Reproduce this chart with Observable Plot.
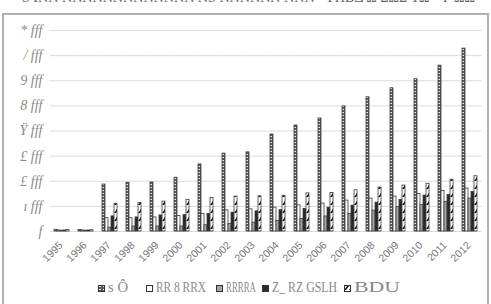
<!DOCTYPE html>
<html>
<head>
<meta charset="utf-8">
<script src="https://cdn.jsdelivr.net/npm/d3@7"></script>
<script src="https://cdn.jsdelivr.net/npm/@observablehq/plot@0.6"></script>
<style>
  html, body { margin: 0; padding: 0; background: #fff; overflow: hidden; }
  #wrap { position: relative; width: 491px; height: 304px; }
  #frame { position: absolute; left: 2px; top: 13px; width: 483px; height: 320px; border: 2px solid #b0b0b0; }
  #title { position: absolute; left: 22px; top: -11px; font: 15px "Liberation Serif", serif; color: #666; white-space: nowrap; transform-origin: 0 0; }
  #chart { position: absolute; left: 0; top: 0; }
  #chart svg [aria-label^="y-axis"] text { font-family: "Liberation Serif", serif; font-style: italic; font-size: 14px; fill: #8a8a8a; }
  #chart svg [aria-label^="fx-axis"] text { font-family: "Liberation Sans", sans-serif; font-size: 10.5px; fill: #777; }
  #legend { position: absolute; left: 0; top: 0; width: 491px; height: 304px; font: 14px "Liberation Serif", serif; color: #888; white-space: nowrap; }
  #legend .item { position: absolute; top: 280px; display: flex; align-items: center; }
  #legend svg { margin-right: 3px; }
  #legend span { display: inline-block; transform-origin: 0 50%; }
</style>
</head>
<body>
<svg width="0" height="0" style="position:absolute">
  <defs>
    <pattern id="pChk" width="4" height="3" patternUnits="userSpaceOnUse">
      <rect width="4" height="3" fill="#5a5a5a"></rect>
      <rect x="1" y="1" width="2" height="1" fill="#e8e8e8"></rect>
    </pattern>
    <pattern id="pHatch" width="5" height="8" patternUnits="userSpaceOnUse">
      <rect width="5" height="8" fill="#fff"></rect>
      <polygon points="0,5 3,1 5,1 2,5" fill="#111"></polygon>
    </pattern>
  </defs>
</svg>
<div id="wrap">
  <div id="frame"></div>
  <div id="title"><span id="titleText">Ѕ ІΝΝ ΝΝΝΝΝΝΝΝΝΝΝΝΝ ΝЅ ΝΝΝΝΝΝ ΝΝΝ &nbsp; ΥΠΒΔ Ω ΣΩΣ ΥΩ &nbsp; Ψ ΩΩ</span></div>
  <div id="chart"></div>
  <div id="legend"></div>
</div>
<script>
const years = ["1995","1996","1997","1998","1999","2000","2001","2002","2003","2004","2005","2006","2007","2008","2009","2010","2011","2012"];
const series = ["s Ô", "RR 8 RRX", "RRRRA", "Z_ RZ GSLH", "BDU"];
const s1 = [70, 60, 1870, 1940, 1950, 2140, 2670, 3100, 3150, 3860, 4220, 4500, 4980, 5340, 5700, 6060, 6600, 7280];
const s2 = [40, 40, 530, 530, 560, 620, 700, 840, 880, 950, 1040, 1110, 1230, 1310, 1390, 1490, 1610, 1710];
const s3 = [30, 30, 150, 200, 200, 200, 250, 300, 350, 420, 500, 600, 700, 830, 970, 1050, 1180, 1310];
const s4 = [40, 40, 600, 560, 640, 650, 700, 750, 800, 850, 900, 950, 1030, 1150, 1260, 1430, 1450, 1570];
const s5 = [60, 50, 1100, 1140, 1190, 1260, 1330, 1390, 1400, 1420, 1520, 1530, 1640, 1750, 1830, 1900, 2060, 2200];
const yTicks = [0, 1000, 2000, 3000, 4000, 5000, 6000, 7000, 8000];
const yTickLabels = ["f", "ı fff", "£ fff", "£ fff", "Ÿ fff", "8 fff", "9 fff", "/ fff", "* fff"];
const fills = ["url(#pChk)", "#ffffff", "#a6a6a6", "#2b2b2b", "url(#pHatch)"];

const values = [s1, s2, s3, s4, s5];
const data = years.flatMap((y, i) => series.map((s, j) => ({year: y, series: s, value: values[j][i]})));

const chart = Plot.plot({
  width: 491,
  height: 272,
  marginTop: 30,
  marginBottom: 41,
  marginLeft: 51,
  marginRight: 10,
  fx: {domain: years, padding: 0.2, label: null, tickRotate: -45, tickSize: 0, tickPadding: 10},
  x: {domain: series, axis: null, padding: 0.12},
  y: {domain: [0, 8000], ticks: yTicks, tickFormat: d => yTickLabels[yTicks.indexOf(d)], label: null, tickSize: 0, tickPadding: 10},
  color: {type: "ordinal", domain: series, range: fills},
  marks: [
    Plot.ruleY(yTicks, {stroke: "#dcdcdc", strokeWidth: 1, insetLeft: -2.5, insetRight: -2.5}),
    Plot.barY(data, {fx: "year", x: "series", y: "value", fill: "series", stroke: "#3a3a3a", strokeWidth: 0.8})
  ]
});
document.getElementById("chart").appendChild(chart);
d3.select(chart).selectAll('[aria-label^="fx-axis"]').each(function() {
  const t = this.getAttribute("transform") || "";
  this.setAttribute("transform", t + " translate(-1,2)");
});

// fit title width
const tt = document.getElementById("titleText");
const tw = tt.getBoundingClientRect().width;
document.getElementById("title").style.transform = `scaleX(${453 / tw})`;

// legend layout (positions and text widths in pixels)
const legendLeft = [98, 146, 216, 262, 344];
const legendTextWidth = [20, 50, 30, 65, 46];
const legend = document.getElementById("legend");
series.forEach((s, j) => {
  const item = document.createElement("div");
  item.className = "item";
  item.style.left = legendLeft[j] + "px";
  item.innerHTML = `<svg width="7" height="7"><rect x="0.5" y="0.5" width="6" height="6" fill="${fills[j]}" stroke="#333" stroke-width="1"></rect></svg><span>${s}</span>`;
  legend.appendChild(item);
  const span = item.querySelector("span");
  const w = span.getBoundingClientRect().width;
  span.style.transform = `scaleX(${legendTextWidth[j] / w})`;
});
</script>
</body>
</html>
